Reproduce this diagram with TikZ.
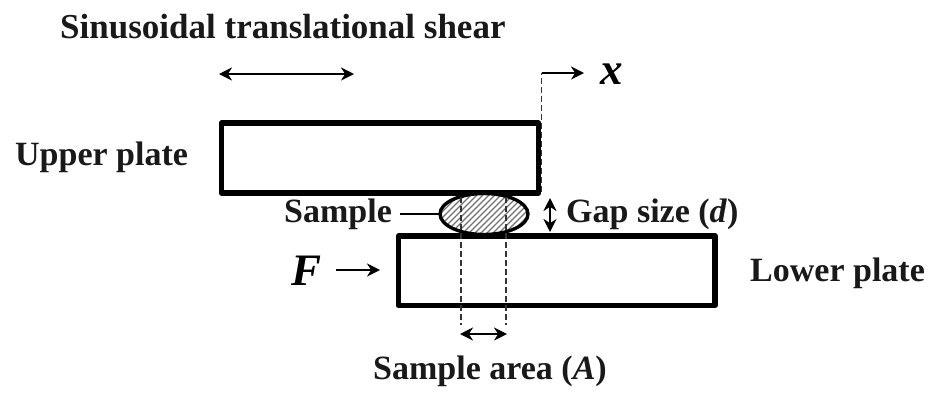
\documentclass[tikz,border=0pt]{standalone}
\usepackage{fontspec}
\setmainfont{Liberation Serif}
\usetikzlibrary{arrows.meta,patterns,shapes.geometric}
\begin{document}
\begin{tikzpicture}[x=1pt,y=-1pt,
  plate/.style={draw=black,line width=5.2pt,line join=round,fill=white,inner sep=0pt,outer sep=0pt},
  lbl/.style={font=\bfseries\fontsize{34}{36}\selectfont,inner sep=0pt,text=black!90},
  big/.style={font=\bfseries\itshape\fontsize{45}{47}\selectfont,inner sep=0pt},
  arr/.style={line width=2.2pt,-{Stealth[length=13pt,width=13pt]}},
  darr/.style={line width=2.2pt,{Stealth[length=13pt,width=13pt]}-{Stealth[length=13pt,width=13pt]}},
  guide/.style={line width=1.1pt,dash pattern=on 6pt off 3pt,draw=black!80}]
\useasboundingbox (0,0) rectangle (934,392);
\node[plate,minimum width=317.5pt,minimum height=70pt] (upper) at (380,158) {};
\node[plate,minimum width=316.5pt,minimum height=69.5pt] (lower) at (556.75,270.75) {};
\begin{scope}
\clip (484,214) ellipse [x radius=44, y radius=20.5];
\fill[white] (438,190) rectangle (532,238);
\foreach \k in {-40,-34,...,150}
  \draw[black!55,line width=1.1pt] (438+\k,238) -- (486+\k,190);
\end{scope}
\node[draw=black,line width=3.4pt,ellipse,minimum width=88pt,minimum height=41pt,inner sep=0pt,outer sep=0pt] (sample) at (484,214) {};
\coordinate (ga) at (461,197);
\coordinate (gb) at (461,325);
\coordinate (gc) at (506,197);
\coordinate (gd) at (506,325);
\draw[guide] (ga) -- (gb);
\draw[guide] (gc) -- (gd);
\coordinate (ea) at (460,334);
\coordinate (eb) at (507,334);
\draw[darr] (ea) -- (eb);
\coordinate (gapa) at (550,198);
\coordinate (gapb) at (550,232);
\draw[darr] (gapa) -- (gapb);
\coordinate (xa) at (541.5,192);
\coordinate (xb) at (541.5,73);
\coordinate (xc) at (584,73);
\draw[guide] (xa) -- (xb);
\draw[arr] (xb) -- (xc);
\coordinate (sa) at (219,74);
\coordinate (sb) at (354,74);
\draw[darr] (sa) -- (sb);
\coordinate (fa) at (336,270);
\coordinate (fb) at (380,270);
\draw[arr] (fa) -- (fb);
\node[lbl,anchor=west] (title) at (60,27) {\fontsize{35}{37}\selectfont Sinusoidal translational shear};
\node[lbl,anchor=west] (up) at (15,157) {Upper plate};
\node[lbl,anchor=west] (lo) at (750,273) {Lower plate};
\node[lbl,anchor=west] (sm) at (284,214) {Sample};
\coordinate (sl) at (400,214);
\draw[line width=1.6pt] (sl) -- (sample.west);
\node[lbl,anchor=west] (gp) at (566,214) {Gap size (\textit{d})};
\node[lbl,anchor=west] (ar) at (373,371) {Sample area (\textit{A})};
\node[big,anchor=center] (xl) at (612,74) {x};
\node[big,anchor=center] (fl) at (307,271) {F};
\end{tikzpicture}
\end{document}
